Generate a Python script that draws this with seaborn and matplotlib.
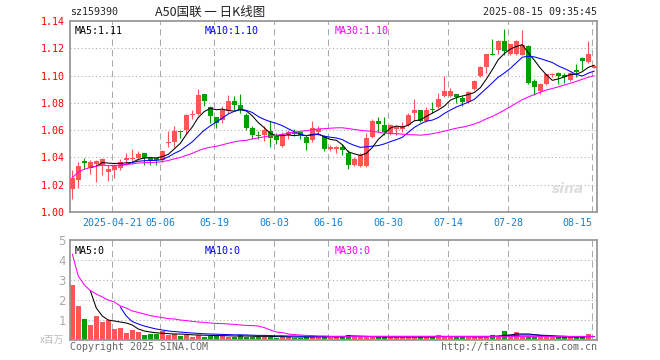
import numpy as np
import pandas as pd
import matplotlib
matplotlib.use("Agg")
import matplotlib.pyplot as plt
import seaborn as sns

# 日K数据 (2025-04-10 .. 2025-08-15)
opens = [1.0171, 1.0232, 1.0371, 1.0320, 1.0354, 1.0344, 1.0295, 1.0310, 1.0324, 1.0383,
         1.0388, 1.0393, 1.0429, 1.0393, 1.0395, 1.0378, 1.0505, 1.0510, 1.0593, 1.0598,
         1.0710, 1.0720, 1.0866, 1.0768, 1.0695, 1.0671, 1.0737, 1.0810, 1.0786, 1.0712,
         1.0615, 1.0568, 1.0566, 1.0595, 1.0559, 1.0485, 1.0566, 1.0590, 1.0583, 1.0549,
         1.0529, 1.0583, 1.0554, 1.0461, 1.0463, 1.0478, 1.0429, 1.0344, 1.0337, 1.0337,
         1.0551, 1.0666, 1.0637, 1.0581, 1.0610, 1.0610, 1.0637, 1.0727, 1.0747, 1.0668,
         1.0754, 1.0771, 1.0851, 1.0851, 1.0864, 1.0832, 1.0807, 1.0900, 1.0998, 1.1063,
         1.1161, 1.1190, 1.1251, 1.1161, 1.1161, 1.1154, 1.1215, 1.0959, 1.0885, 1.0941,
         1.1002, 1.1022, 1.1002, 1.0966, 1.1039, 1.1132, 1.1100, 1.1059]
highs = [1.0305, 1.0366, 1.0398, 1.0378, 1.0378, 1.0398, 1.0342, 1.0354, 1.0390, 1.0432,
         1.0464, 1.0444, 1.0429, 1.0395, 1.0395, 1.0456, 1.0593, 1.0634, 1.0593, 1.0720,
         1.0744, 1.0903, 1.0866, 1.0778, 1.0695, 1.0778, 1.0859, 1.0847, 1.0864, 1.0725,
         1.0627, 1.0595, 1.0627, 1.0664, 1.0578, 1.0590, 1.0598, 1.0607, 1.0590, 1.0566,
         1.0664, 1.0627, 1.0566, 1.0490, 1.0485, 1.0498, 1.0454, 1.0405, 1.0429, 1.0580,
         1.0685, 1.0698, 1.0693, 1.0644, 1.0629, 1.0661, 1.0722, 1.0825, 1.0751, 1.0771,
         1.0808, 1.0869, 1.1000, 1.0912, 1.0864, 1.0849, 1.0888, 1.0966, 1.1068, 1.1161,
         1.1271, 1.1264, 1.1339, 1.1234, 1.1259, 1.1332, 1.1222, 1.0978, 1.0946, 1.1015,
         1.1020, 1.1027, 1.1020, 1.1027, 1.1088, 1.1137, 1.1251, 1.1076]
lows = [1.0098, 1.0176, 1.0315, 1.0280, 1.0220, 1.0268, 1.0227, 1.0249, 1.0305, 1.0346,
        1.0354, 1.0378, 1.0344, 1.0344, 1.0344, 1.0366, 1.0476, 1.0476, 1.0544, 1.0573,
        1.0683, 1.0708, 1.0778, 1.0656, 1.0615, 1.0651, 1.0725, 1.0744, 1.0725, 1.0603,
        1.0534, 1.0534, 1.0522, 1.0473, 1.0500, 1.0480, 1.0534, 1.0559, 1.0534, 1.0451,
        1.0510, 1.0566, 1.0444, 1.0444, 1.0429, 1.0417, 1.0315, 1.0337, 1.0332, 1.0332,
        1.0539, 1.0588, 1.0563, 1.0563, 1.0563, 1.0588, 1.0629, 1.0673, 1.0661, 1.0661,
        1.0722, 1.0759, 1.0844, 1.0844, 1.0800, 1.0776, 1.0800, 1.0893, 1.0990, 1.1020,
        1.1154, 1.1161, 1.1149, 1.1149, 1.1149, 1.1149, 1.0941, 1.0856, 1.0868, 1.0929,
        1.0990, 1.0941, 1.0946, 1.0961, 1.0990, 1.1039, 1.1093, 1.1054]
closes = [1.0251, 1.0334, 1.0356, 1.0364, 1.0373, 1.0385, 1.0315, 1.0342, 1.0368, 1.0393,
          1.0398, 1.0427, 1.0393, 1.0381, 1.0383, 1.0444, 1.0512, 1.0593, 1.0583, 1.0708,
          1.0720, 1.0861, 1.0810, 1.0700, 1.0656, 1.0744, 1.0810, 1.0786, 1.0749, 1.0615,
          1.0566, 1.0559, 1.0598, 1.0542, 1.0529, 1.0573, 1.0583, 1.0573, 1.0564, 1.0505,
          1.0615, 1.0607, 1.0461, 1.0473, 1.0473, 1.0454, 1.0344, 1.0388, 1.0417, 1.0546,
          1.0668, 1.0644, 1.0583, 1.0637, 1.0620, 1.0629, 1.0710, 1.0747, 1.0668, 1.0751,
          1.0747, 1.0827, 1.0886, 1.0886, 1.0845, 1.0807, 1.0880, 1.0961, 1.1063, 1.1156,
          1.1154, 1.1251, 1.1181, 1.1229, 1.1251, 1.1222, 1.0946, 1.0917, 1.0937, 1.1010,
          1.1015, 1.0998, 1.0990, 1.1020, 1.1027, 1.1107, 1.1156, 1.1071]

# 成交量 (百万)
volumes = [2.77, 1.72, 1.07, 0.77, 1.22, 0.92, 1.02, 0.57, 0.62, 0.37,
           0.52, 0.42, 0.27, 0.32, 0.32, 0.47, 0.27, 0.32, 0.22, 0.27,
           0.17, 0.27, 0.17, 0.22, 0.22, 0.22, 0.17, 0.17, 0.27, 0.17,
           0.17, 0.17, 0.22, 0.17, 0.12, 0.17, 0.17, 0.12, 0.12, 0.17,
           0.17, 0.17, 0.17, 0.12, 0.15, 0.15, 0.27, 0.15, 0.15, 0.15,
           0.15, 0.15, 0.15, 0.15, 0.15, 0.15, 0.15, 0.15, 0.15, 0.15,
           0.15, 0.27, 0.15, 0.15, 0.15, 0.15, 0.20, 0.15, 0.15, 0.15,
           0.27, 0.15, 0.47, 0.15, 0.42, 0.15, 0.15, 0.15, 0.15, 0.15,
           0.15, 0.15, 0.15, 0.15, 0.15, 0.15, 0.32, 0.05]
vol_ma5 = [None, None, None, 2.47, 1.60, 1.20, 1.00, 0.95, 0.90, 0.85,
           0.75, 0.55, 0.45, 0.40, 0.36, 0.34, 0.32, 0.30, 0.30, 0.28,
           0.26, 0.25, 0.24, 0.23, 0.22, 0.22, 0.21, 0.20, 0.20, 0.20,
           0.19, 0.18, 0.19, 0.18, 0.17, 0.17, 0.16, 0.15, 0.15, 0.15,
           0.15, 0.16, 0.16, 0.15, 0.15, 0.16, 0.20, 0.20, 0.19, 0.18,
           0.17, 0.16, 0.15, 0.15, 0.15, 0.15, 0.15, 0.15, 0.15, 0.15,
           0.15, 0.17, 0.17, 0.17, 0.17, 0.17, 0.17, 0.16, 0.16, 0.16,
           0.18, 0.18, 0.23, 0.25, 0.30, 0.30, 0.30, 0.27, 0.23, 0.20,
           0.18, 0.16, 0.15, 0.15, 0.15, 0.15, 0.18, 0.17]
vol_ma10 = [None, None, None, None, None, None, None, None, 1.65, 1.20,
            0.92, 0.80, 0.70, 0.62, 0.55, 0.50, 0.45, 0.42, 0.40, 0.37,
            0.35, 0.33, 0.31, 0.30, 0.29, 0.28, 0.27, 0.26, 0.26, 0.25,
            0.24, 0.23, 0.23, 0.22, 0.21, 0.21, 0.20, 0.20, 0.19, 0.19,
            0.19, 0.18, 0.18, 0.18, 0.18, 0.18, 0.18, 0.18, 0.18, 0.18,
            0.18, 0.18, 0.18, 0.18, 0.18, 0.18, 0.18, 0.18, 0.18, 0.18,
            0.18, 0.18, 0.18, 0.18, 0.18, 0.18, 0.18, 0.18, 0.18, 0.18,
            0.18, 0.20, 0.22, 0.23, 0.24, 0.25, 0.25, 0.25, 0.24, 0.23,
            0.22, 0.20, 0.19, 0.17, 0.17, 0.17, 0.17, 0.17]
vol_ma30 = [4.30, 3.20, 2.75, 2.47, 2.30, 2.15, 2.00, 1.90, 1.70, 1.60,
            1.45, 1.38, 1.30, 1.22, 1.17, 1.12, 1.07, 1.05, 1.00, 0.97,
            0.93, 0.90, 0.88, 0.85, 0.83, 0.82, 0.80, 0.78, 0.75, 0.73,
            0.72, 0.70, 0.62, 0.50, 0.40, 0.37, 0.30, 0.27, 0.25, 0.23,
            0.22, 0.20, 0.20, 0.18, 0.18, 0.18, 0.18, 0.18, 0.18, 0.18,
            0.18, 0.18, 0.18, 0.18, 0.18, 0.18, 0.18, 0.18, 0.18, 0.18,
            0.18, 0.18, 0.18, 0.18, 0.18, 0.18, 0.18, 0.18, 0.18, 0.18,
            0.18, 0.18, 0.18, 0.18, 0.18, 0.18, 0.18, 0.18, 0.18, 0.18,
            0.18, 0.18, 0.18, 0.18, 0.18, 0.18, 0.18, 0.18]

tick_idx = [7, 15, 24, 34, 43, 53, 63, 73, 87]
tick_labels = ['2025-04-21', '05-06', '05-19', '06-03', '06-16', '06-30', '07-14', '07-28', '08-15']
price_ticks = [1.00, 1.02, 1.04, 1.06, 1.08, 1.10, 1.12, 1.14]
vol_ticks = [1, 2, 3, 4, 5]

RED = '#ff5555'
GREEN = '#00a000'
GRID = '#aaaaaa'
BORDER = '#999999'
MONO = 'DejaVu Sans Mono'
CJK = 'Noto Sans CJK SC'
LW = 0.75

sns.set_style('white')
plt.rcParams['font.family'] = [MONO, CJK]

df = pd.DataFrame({'open': opens, 'high': highs, 'low': lows, 'close': closes, 'vol': volumes})
df['i'] = np.arange(len(df))
df['up'] = df['close'] >= df['open']
df['ma5'] = df['close'].rolling(5, min_periods=4).mean()
df['ma10'] = df['close'].rolling(10, min_periods=9).mean()
df['ma30'] = df['close'].rolling(30, min_periods=1).mean()
colors = np.where(df['up'], RED, GREEN)

W, H = 660, 360
fig = plt.figure(figsize=(6.6, 3.6), dpi=100)
ax = fig.add_axes([70 / W, 1 - 212 / H, 527 / W, 191 / H])
axv = fig.add_axes([70 / W, 1 - 340 / H, 527 / W, 100 / H])

xlim = (-0.38, 87.45)
vlines_x = [t - 0.35 for t in tick_idx]

# 价格面板
for yv in price_ticks[1:-1]:
    ax.axhline(yv, color=GRID, lw=0.75, ls=(0, (1, 2.5)), zorder=0)
for xv in vlines_x:
    ax.axvline(xv, color=GRID, lw=0.75, ls=(0, (6, 4)), zorder=0)

ax.vlines(df['i'], df['low'], df['high'], colors=colors, lw=0.8, zorder=2)
body = (df['close'] - df['open']).abs().clip(lower=0.0005)
ax.bar(df['i'], body, bottom=df[['open', 'close']].min(axis=1), width=0.8,
       color=colors, linewidth=0, zorder=3)

sns.lineplot(x=df['i'], y=df['ma5'], ax=ax, color='black', lw=LW, estimator=None, zorder=4)
sns.lineplot(x=df['i'], y=df['ma10'], ax=ax, color='#0000ff', lw=LW, estimator=None, zorder=4)
sns.lineplot(x=df['i'], y=df['ma30'], ax=ax, color='#ff00ff', lw=LW, estimator=None, zorder=4)

ax.set_xlim(*xlim)
ax.set_ylim(1.00, 1.14)
ax.set_yticks(price_ticks)
ax.set_yticklabels([f'{v:.2f}' for v in price_ticks], color='red', fontsize=7.2, family=MONO)
ax.set_xticks(vlines_x)
ax.set_xticklabels(tick_labels, color='#1581d6', fontsize=7.2, family=MONO)
ax.get_xticklabels()[-1].set_horizontalalignment('right')
ax.tick_params(length=0, pad=4)
ax.set_xlabel('')
ax.set_ylabel('')

ax.text(0.009, 0.972, f"MA5:{df['ma5'].iloc[-1]:.2f}", transform=ax.transAxes, fontsize=7.2,
        color='black', va='top', family=MONO)
ax.text(0.256, 0.972, f"MA10:{df['ma10'].iloc[-1]:.2f}", transform=ax.transAxes, fontsize=7.2,
        color='#0000ff', va='top', family=MONO)
ax.text(0.503, 0.972, f"MA30:{df['ma30'].iloc[-1]:.2f}", transform=ax.transAxes, fontsize=7.2,
        color='#ff00ff', va='top', family=MONO)
ax.text(0.975, 0.12, 'sina', transform=ax.transAxes, fontsize=10, color='#dddddd',
        ha='right', va='center', style='italic', weight='bold', family='DejaVu Sans', zorder=1)

# 成交量面板
for yv in vol_ticks[:-1]:
    axv.axhline(yv, color=GRID, lw=0.75, ls=(0, (1, 2.5)), zorder=0)
for xv in vlines_x:
    axv.axvline(xv, color=GRID, lw=0.75, ls=(0, (6, 4)), zorder=0)

axv.bar(df['i'], df['vol'], width=0.8, color=colors, linewidth=0, zorder=2)
vdf = pd.DataFrame({'i': df['i'], 'm5': pd.to_numeric(vol_ma5), 'm10': pd.to_numeric(vol_ma10),
                    'm30': vol_ma30})
sns.lineplot(data=vdf, x='i', y='m5', ax=axv, color='black', lw=LW, estimator=None, zorder=4)
sns.lineplot(data=vdf, x='i', y='m10', ax=axv, color='#0000ff', lw=LW, estimator=None, zorder=4)
sns.lineplot(data=vdf, x='i', y='m30', ax=axv, color='#ff00ff', lw=LW, estimator=None, zorder=4)

axv.set_xlim(*xlim)
axv.set_ylim(0, 5)
axv.set_yticks(vol_ticks)
axv.set_yticklabels([str(v) for v in vol_ticks], color='#aaaaaa', fontsize=8.5, family='DejaVu Sans')
axv.set_xticks([])
axv.tick_params(length=0, pad=3)
axv.set_xlabel('')
axv.set_ylabel('')
axv.text(0.009, 0.945, 'MA5:0', transform=axv.transAxes, fontsize=7.2, color='black', va='top', family=MONO)
axv.text(0.256, 0.945, 'MA10:0', transform=axv.transAxes, fontsize=7.2, color='#0000ff', va='top', family=MONO)
axv.text(0.503, 0.945, 'MA30:0', transform=axv.transAxes, fontsize=7.2, color='#ff00ff', va='top', family=MONO)

for a in (ax, axv):
    for s in a.spines.values():
        s.set_visible(True)
        s.set_color(BORDER)
        s.set_linewidth(1.3)

# 页眉页脚
fig.text(70 / W, 1 - 12 / H, 'sz159390', fontsize=7.2, family=MONO, va='center', ha='left')
fig.text(210 / W, 1 - 12 / H, 'A50国联 一 日K线图', fontsize=9, family=[CJK, MONO],
         va='center', ha='center', color='#222222')
fig.text(597 / W, 1 - 12 / H, '2025-08-15 09:35:45', fontsize=7.2, family=MONO, va='center', ha='right')
fig.text(64 / W, 1 - 340 / H, 'x百万', fontsize=7, family=[CJK, MONO], va='center', ha='right',
         color='#bbbbbb')
fig.text(70 / W, 1 - 347 / H, 'Copyright 2025 SINA.COM', fontsize=7.2, family=MONO, va='center',
         ha='left', color='#666666')
fig.text(597 / W, 1 - 347 / H, 'http://finance.sina.com.cn', fontsize=7.2, family=MONO, va='center',
         ha='right', color='#666666')

fig.savefig('out.png', dpi=100, facecolor='white')
